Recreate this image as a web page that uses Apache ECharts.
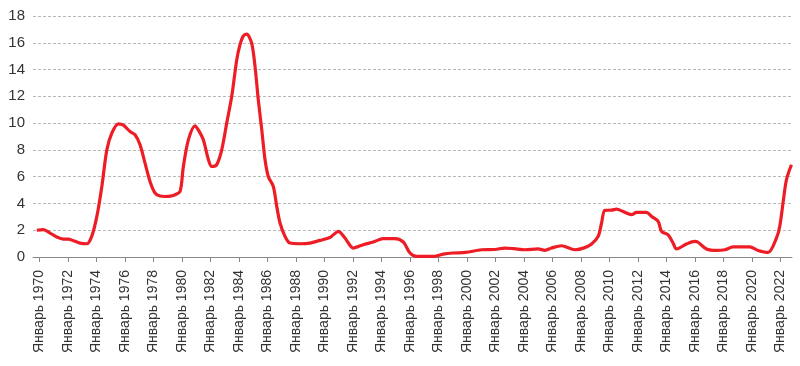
<!DOCTYPE html>
<html>
<head>
<meta charset="utf-8">
<script src="https://cdn.jsdelivr.net/npm/echarts@6/dist/echarts.min.js"></script>
<style>html,body{margin:0;padding:0;background:#fff}#c{width:800px;height:366px}</style>
</head>
<body>
<div id="c"></div>
<script>
const years = [
1969.82,1970.28,1970.75,1971.22,1971.68,1972.03,1972.38,1972.85,1973.32,1973.67,
1974.03,1974.38,1974.73,1975.08,1975.54,1975.89,1976.36,1976.71,1977.06,1977.41,
1977.76,1978.11,1978.46,1978.82,1979.2,1979.52,1979.87,1980.1,1980.45,1980.92,
1981.2,1981.5,1981.86,1982.09,1982.44,1982.79,1983.14,1983.49,1983.84,1984.07,
1984.3,1984.54,1984.89,1985.13,1985.36,1985.6,1985.83,1986.06,1986.41,1986.65,
1986.88,1987.23,1987.58,1988.28,1988.98,1989.68,1990.38,1990.62,1990.97,1991.44,
1992.02,1992.72,1993.42,1994.12,1994.94,1995.53,1996.0,1996.47,1997.75,1998.33,
1999.0,1999.9,2001.02,2001.96,2002.66,2003.3,2004.06,2004.99,2005.46,2005.93,
2006.63,2007.57,2008.27,2008.74,2009.2,2009.44,2009.67,2010.14,2010.49,2010.95,
2011.54,2011.89,2012.59,2012.95,2013.41,2013.65,2014.11,2014.46,2014.7,2015.4,
2015.98,2016.21,2016.8,2017.5,2018.09,2018.67,2019.84,2020.42,2021.12,2021.71,
2021.94,2022.17,2022.41,2022.76
];
const values = [
2.0,2.05,1.79,1.49,1.34,1.34,1.22,1.04,0.99,1.54,
3.03,5.27,8.0,9.25,9.95,9.85,9.37,9.13,8.38,7.01,
5.64,4.78,4.55,4.52,4.55,4.65,4.9,6.76,8.75,9.8,
9.4,8.75,7.26,6.76,6.9,8.0,10.0,11.98,14.7,15.84,
16.5,16.64,15.97,14.2,11.7,9.5,7.26,6.0,5.27,3.78,
2.54,1.54,1.04,0.99,1.04,1.24,1.46,1.66,1.91,1.42,
0.67,0.92,1.12,1.37,1.37,1.12,0.3,0.05,0.05,0.22,
0.3,0.34,0.54,0.56,0.67,0.62,0.54,0.6,0.5,0.67,
0.84,0.54,0.7,0.97,1.54,2.54,3.48,3.5,3.58,3.4,
3.16,3.33,3.33,3.03,2.66,1.91,1.66,1.04,0.6,0.97,
1.16,1.1,0.6,0.49,0.54,0.75,0.75,0.49,0.34,1.42,
2.28,4.03,5.77,6.89
];
const tickYears = [1970,1972,1974,1976,1978,1980,1982,1984,1986,1988,1990,1992,1994,1996,1998,2000,2002,2004,2006,2008,2010,2012,2014,2016,2018,2020,2022];
const yTicks = [0,2,4,6,8,10,12,14,16,18];

const chart = echarts.init(document.getElementById('c'), null, {renderer:'canvas'});
chart.setOption({
  animation:false,
  grid:{left:33,right:8,top:16,bottom:109,containLabel:false},
  xAxis:{
    type:'value', min:1969.55, max:2022.8,
    axisLine:{show:true,lineStyle:{color:'#888',width:1}},
    axisTick:{show:true,customValues:tickYears,length:5,lineStyle:{color:'#888'}},
    axisLabel:{customValues:tickYears,rotate:90,margin:13,fontSize:14,color:'#333',
      fontFamily:'Liberation Sans, Arial, sans-serif',
      formatter:v=>'Январь '+Math.round(v)},
    splitLine:{show:false}
  },
  yAxis:{
    type:'value', min:0, max:18, interval:2,
    axisLine:{show:false}, axisTick:{show:false},
    axisLabel:{fontSize:15,color:'#333',margin:8,fontFamily:'Liberation Sans, Arial, sans-serif'},
    splitLine:{show:true,lineStyle:{color:'#b8b8b8',type:[3,2],width:1}}
  },
  series:[{
    type:'line', smooth:0.3, symbol:'none',
    data: years.map((y,i)=>[y,values[i]]),
    lineStyle:{color:'#ee1c25',width:3.2},
    z:5
  }]
});
</script>
</body>
</html>
